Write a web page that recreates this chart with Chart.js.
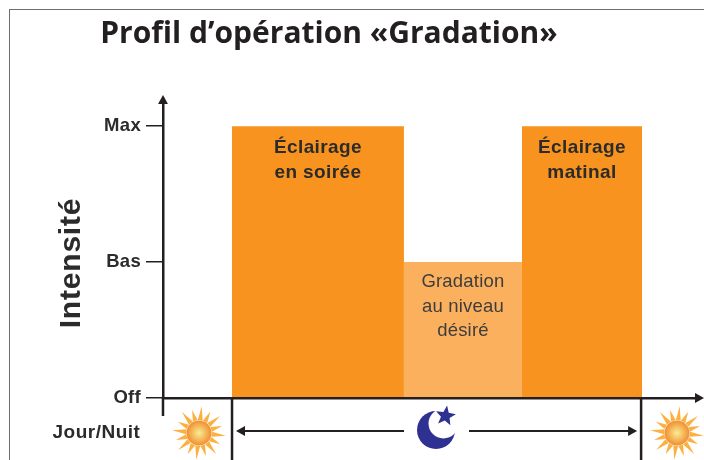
<!DOCTYPE html>
<html lang="fr">
<head>
  <meta charset="UTF-8">
  <title>Profil d'opération Gradation</title>
  <script src="https://cdn.jsdelivr.net/npm/chart.js"></script>
  <style>
    html, body { margin: 0; padding: 0; background: #fff; }
    canvas { display: block; }
  </style>
</head>
<body>
  <canvas id="profil" width="704" height="460"></canvas>
  <script>
    const titre = "Profil d’opération «Gradation»";
    const titreAxe = "Intensité";
    const labelsIntensite = ["Off", "Bas", "Max"];
    const labelsPhases = [["Éclairage", "en soirée"], ["Gradation", "au niveau", "désiré"], ["Éclairage", "matinal"]];
    const debutPhases = [12.95, 45.2, 67.35];
    const finPhases = [45.2, 67.35, 89.87];
    const niveauxPhases = [2, 1, 2];
    const couleursPhases = ["#f7931e", "#fbb05e", "#f7931e"];
    const debutNuit = 12.95;
    const finNuit = 89.7;

    const encre = "#231f20";

    function texte(ctx, str, x, y, font, color, espace) {
      ctx.font = font;
      ctx.fillStyle = color;
      ctx.letterSpacing = (espace || 0) + "px";
      ctx.textAlign = "center";
      ctx.textBaseline = "middle";
      ctx.fillText(str, x, y);
    }

    function triangle(ctx, x, y, dx, dy, size) {
      // pointe en (x, y), direction (dx, dy)
      ctx.beginPath();
      ctx.moveTo(x, y);
      ctx.lineTo(x - dx * size - dy * size * 0.55, y - dy * size - dx * size * 0.55);
      ctx.lineTo(x - dx * size + dy * size * 0.55, y - dy * size + dx * size * 0.55);
      ctx.closePath();
      ctx.fill();
    }

    function soleil(ctx, x, y) {
      ctx.fillStyle = "#fbb040";
      ctx.beginPath();
      const rayons = 16;
      for (let i = 0; i < rayons; i++) {
        const a = i * 2 * Math.PI / rayons + 0.1;
        const r = i % 2 ? 24 : 27;
        ctx.moveTo(x + Math.cos(a - 0.19) * 13, y + Math.sin(a - 0.19) * 13);
        ctx.lineTo(x + Math.cos(a) * r, y + Math.sin(a) * r);
        ctx.lineTo(x + Math.cos(a + 0.19) * 13, y + Math.sin(a + 0.19) * 13);
      }
      ctx.fill();
      const g = ctx.createRadialGradient(x, y, 1, x, y, 13);
      g.addColorStop(0, "#f9e58a");
      g.addColorStop(1, "#f08a2c");
      ctx.fillStyle = g;
      ctx.beginPath();
      ctx.arc(x, y, 12.5, 0, 2 * Math.PI);
      ctx.fill();
    }

    function lune(ctx, x, y) {
      ctx.fillStyle = "#2e3192";
      ctx.beginPath();
      ctx.arc(x, y, 19, 0, 2 * Math.PI);
      ctx.fill();
      ctx.fillStyle = "#fff";
      ctx.beginPath();
      ctx.arc(x + 7.5, y - 6.5, 15, 0, 2 * Math.PI);
      ctx.fill();
      ctx.fillStyle = "#2e3192";
      ctx.beginPath();
      for (let i = 0; i < 10; i++) {
        const a = -Math.PI / 2 + i * Math.PI / 5 + 0.15;
        const r = i % 2 ? 4.6 : 10.5;
        ctx.lineTo(x + 9.5 + Math.cos(a) * r, y - 14 + Math.sin(a) * r);
      }
      ctx.closePath();
      ctx.fill();
    }

    const decor = {
      id: "decor",
      beforeDraw(chart) {
        const ctx = chart.ctx;
        ctx.save();
        ctx.fillStyle = "#fff";
        ctx.fillRect(0, 0, chart.width, chart.height);
        ctx.strokeStyle = "#6d6e71";
        ctx.lineWidth = 1;
        ctx.strokeRect(9.5, 9.5, chart.width, chart.height);
        ctx.restore();
        // les labels de l'axe sont un peu espaces comme dans l'original
        ctx.letterSpacing = "0.3px";
      },
      afterDraw(chart) {
        const ctx = chart.ctx;
        const area = chart.chartArea;
        const xs = chart.scales.x;
        const ys = chart.scales.y;
        const base = ys.getPixelForValue(0);
        ctx.save();

        // textes des phases
        labelsPhases.forEach((lignes, i) => {
          const cx = (xs.getPixelForValue(debutPhases[i]) + xs.getPixelForValue(finPhases[i])) / 2;
          const haut = ys.getPixelForValue(niveauxPhases[i]);
          const gras = i !== 1;
          const y0 = haut + (gras ? 22 : 20);
          lignes.forEach((l, j) => {
            texte(ctx, l, cx, y0 + j * 24.5, gras ? "bold 19px 'Liberation Sans'" : "18.5px 'Liberation Sans'", gras ? "#2b2b2b" : "#3d3d3d", gras ? 0.4 : 0.2);
          });
        });

        // titres
        texte(ctx, titre, 329, 34, "bold 30px 'Open Sans'", encre);
        texte(ctx, "Jour/Nuit", 96.5, 433, "bold 19px 'Liberation Sans'", "#2b2b2b", 0.5);
        ctx.save();
        ctx.translate(72, 263);
        ctx.rotate(-Math.PI / 2);
        texte(ctx, titreAxe, 0, 0, "bold 30px 'Liberation Sans'", "#2b2b2b", 0.8);
        ctx.restore();

        // prolongement des axes et fleches
        ctx.fillStyle = encre;
        ctx.strokeStyle = encre;
        ctx.lineWidth = 2.5;
        ctx.beginPath();
        ctx.moveTo(area.left, base);
        ctx.lineTo(area.left, 416);
        ctx.moveTo(area.left, area.top);
        ctx.lineTo(area.left, 100);
        ctx.stroke();
        triangle(ctx, area.left, 95, 0, -1, 9);
        triangle(ctx, 704, base, 1, 0, 9);

        // limites de la nuit
        const xa = xs.getPixelForValue(debutNuit);
        const xb = xs.getPixelForValue(finNuit);
        ctx.beginPath();
        ctx.moveTo(xa, base);
        ctx.lineTo(xa, 460);
        ctx.moveTo(xb, base);
        ctx.lineTo(xb, 460);
        ctx.stroke();

        // fleche double de la nuit
        ctx.lineWidth = 2;
        ctx.beginPath();
        ctx.moveTo(xa + 8, 431);
        ctx.lineTo(404, 431);
        ctx.moveTo(469, 431);
        ctx.lineTo(xb - 8, 431);
        ctx.stroke();
        triangle(ctx, xa + 4, 431, -1, 0, 9);
        triangle(ctx, xb - 4, 431, 1, 0, 9);

        soleil(ctx, 199, 433);
        soleil(ctx, 677, 433);
        lune(ctx, 436, 430);
        ctx.restore();
      }
    };

    new Chart(document.getElementById("profil"), {
      type: "line",
      data: {
        datasets: labelsPhases.map((l, i) => ({
          label: l.join(" "),
          data: [{ x: debutPhases[i], y: niveauxPhases[i] }, { x: finPhases[i], y: niveauxPhases[i] }],
          backgroundColor: couleursPhases[i],
          borderWidth: 0,
          pointRadius: 0,
          fill: "origin"
        }))
      },
      options: {
        responsive: false,
        animation: false,
        layout: { padding: { top: 99, right: 8, left: 0, bottom: 0 } },
        plugins: { legend: { display: false }, tooltip: { enabled: false } },
        scales: {
          x: {
            type: "linear",
            min: 0,
            max: 100,
            grid: { display: false },
            border: { color: encre, width: 2.5, z: 1 },
            ticks: { display: false },
            afterFit(s) { s.height = 62; }
          },
          y: {
            min: 0,
            max: 2.2,
            grid: { drawOnChartArea: false, drawTicks: true, tickLength: 17, color: encre, lineWidth: 1.5 },
            border: { color: encre, width: 2.5, z: 1 },
            ticks: {
              stepSize: 1,
              includeBounds: false,
              padding: 5,
              color: "#2b2b2b",
              font: { family: "'Liberation Sans'", size: 18.5, weight: "bold" },
              callback: v => labelsIntensite[v]
            },
            afterFit(s) { s.width = 163; }
          }
        }
      },
      plugins: [decor]
    });
  </script>
</body>
</html>
